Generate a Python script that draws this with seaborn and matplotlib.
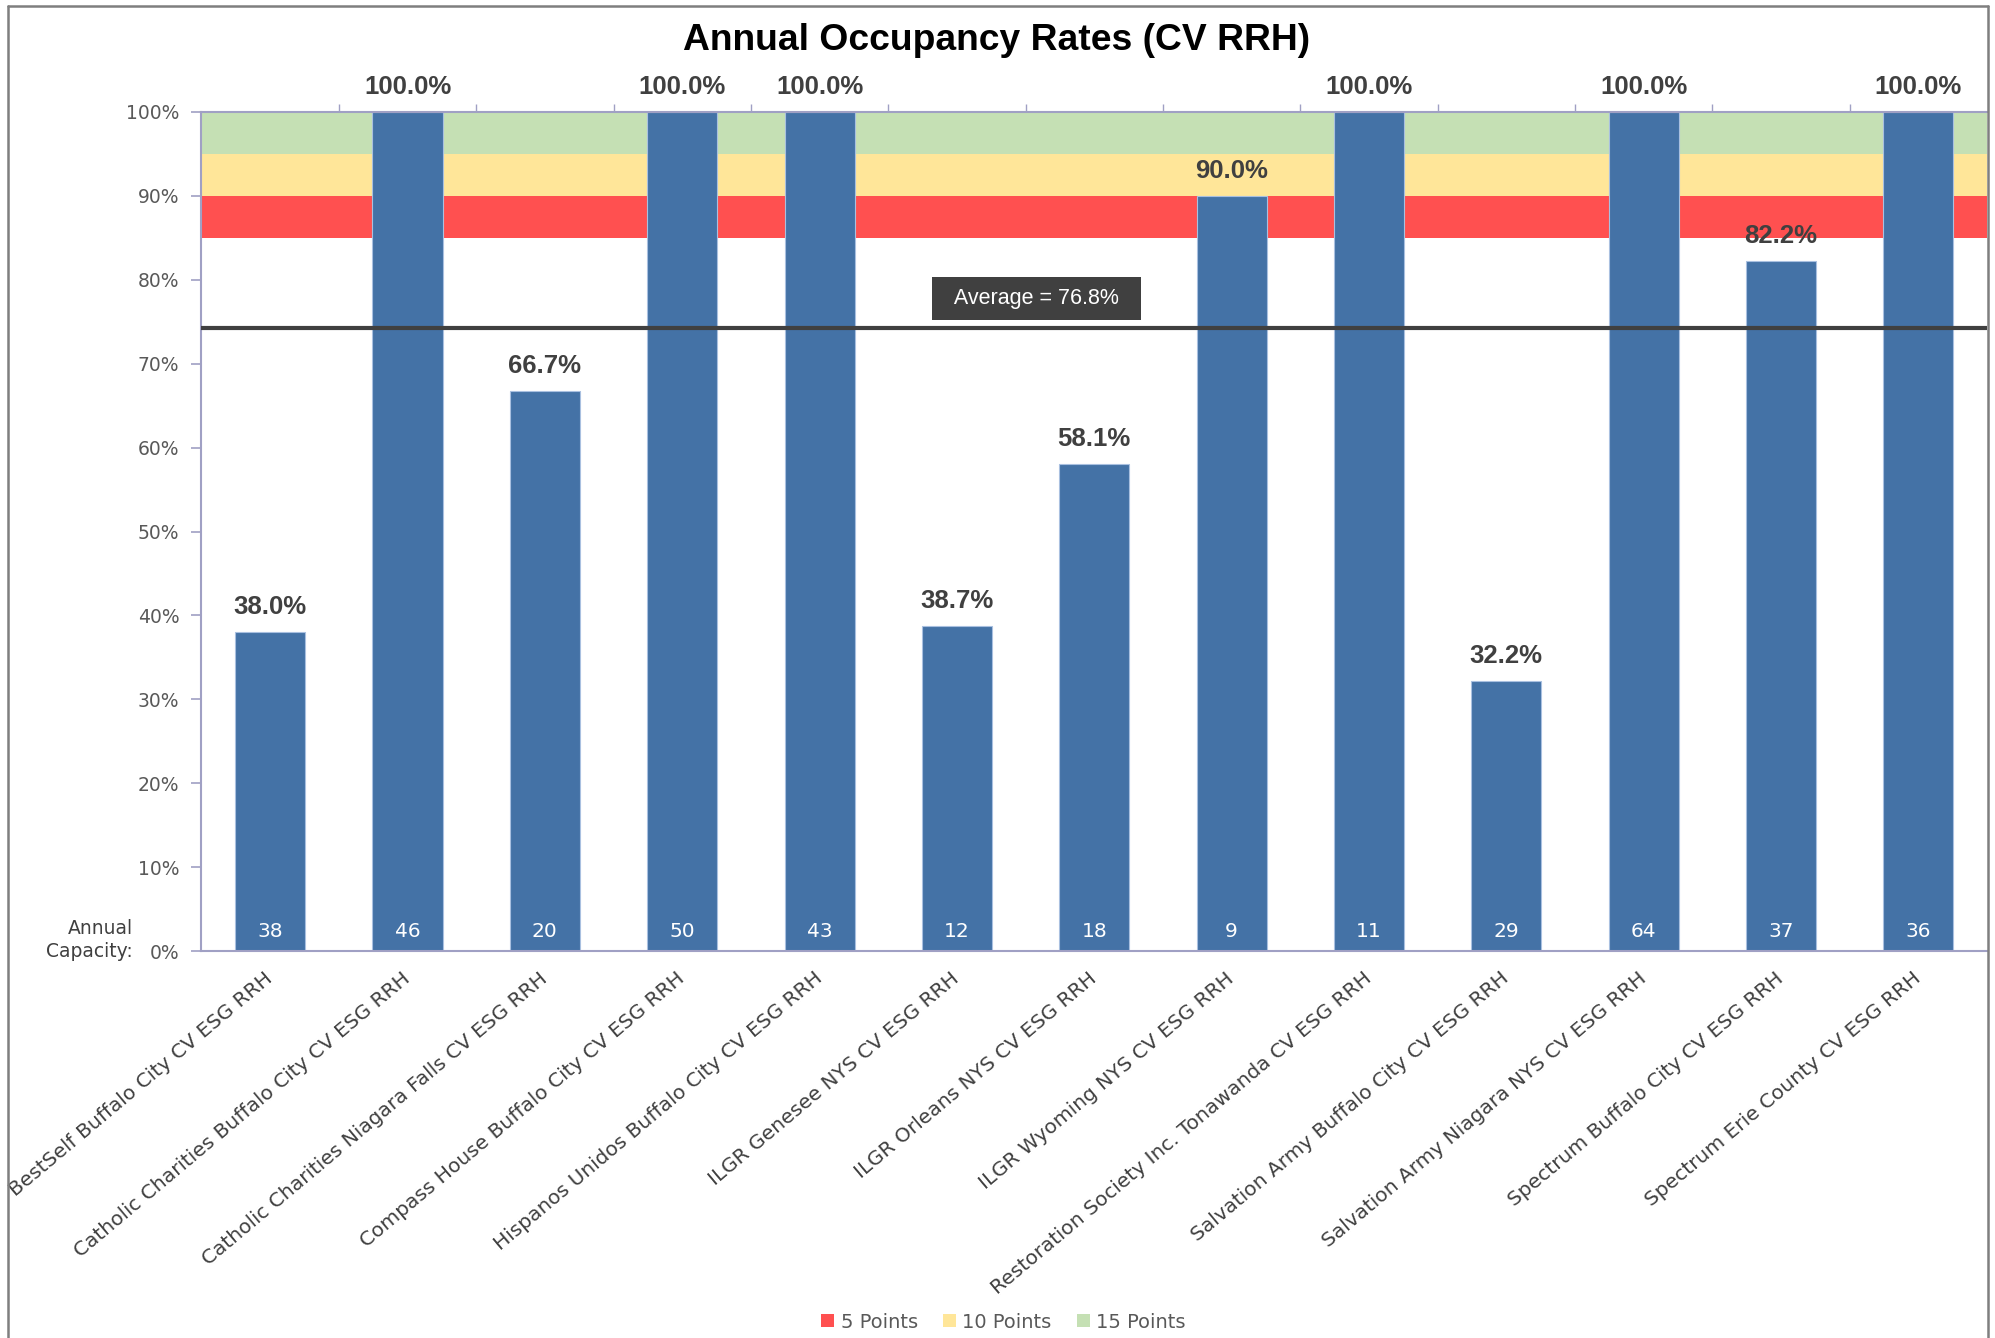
"""Annual occupancy rates bar chart (CV RRH)"""

import matplotlib
matplotlib.use("Agg")
import matplotlib.pyplot as plt
from matplotlib.lines import Line2D
from matplotlib.patches import Patch
import seaborn as sns
import pandas as pd

programs = [
    "BestSelf Buffalo City CV ESG RRH",
    "Catholic Charities Buffalo City CV ESG RRH",
    "Catholic Charities Niagara Falls CV ESG RRH",
    "Compass House Buffalo City CV ESG RRH",
    "Hispanos Unidos Buffalo City CV ESG RRH",
    "ILGR Genesee NYS CV ESG RRH",
    "ILGR Orleans NYS CV ESG RRH",
    "ILGR Wyoming NYS CV ESG RRH",
    "Restoration Society Inc. Tonawanda CV ESG RRH",
    "Salvation Army Buffalo City CV ESG RRH",
    "Salvation Army Niagara NYS CV ESG RRH",
    "Spectrum Buffalo City CV ESG RRH",
    "Spectrum Erie County CV ESG RRH",
]
occupancy = [38.0, 100.0, 66.7, 100.0, 100.0, 38.7, 58.1, 90.0, 100.0, 32.2, 100.0, 82.2, 100.0]
capacity = [38, 46, 20, 50, 43, 12, 18, 9, 11, 29, 64, 37, 36]

band_names = ["5 Points", "10 Points", "15 Points"]
band_low = [85, 90, 95]
band_high = [90, 95, 100]

average_line = 74.3
average_label = "Average = 76.8%"

BAR = "#4472A6"
BAND_COLORS = ["#FF5050", "#FFE699", "#C5E0B4"]
DARK = "#404040"
GREY = "#595959"
SPINE = "#A0A0C4"

sns.set_theme(style="white")
plt.rcParams["font.family"] = ["DejaVu Sans"]

fig = plt.figure(figsize=(19.95, 13.38), dpi=100)
ax = fig.add_axes([0.101, 0.2892, 0.895, 0.6271])

# scoring bands
for lo, hi, c in zip(band_low, band_high, BAND_COLORS):
    ax.axhspan(lo, hi, color=c, lw=0, zorder=0)

df = pd.DataFrame({"program": programs, "occupancy": occupancy, "capacity": capacity})
sns.barplot(data=df, x="program", y="occupancy", color=BAR, saturation=1,
            width=0.51, edgecolor="#A9C0E0", linewidth=0.8, ax=ax, zorder=2)

ax.axhline(average_line, color=DARK, lw=3, zorder=3)
ax.text(5.58, 77.8, "  " + average_label + "  ", color="white", fontsize=15.5,
        family="Liberation Sans", ha="center", va="center", zorder=4,
        bbox=dict(boxstyle="square,pad=0.5", fc=DARK, ec="none"))

for i, (v, cap) in enumerate(zip(df.occupancy, df.capacity)):
    ax.annotate(f"{v:.1f}%", (i, v), xytext=(0, 18), textcoords="offset points",
                ha="center", va="center", fontsize=18.5, fontweight="bold",
                family="Liberation Sans", color=DARK, annotation_clip=False, zorder=5)
    ax.annotate(str(cap), (i, 0), xytext=(0, 14.4), textcoords="offset points",
                ha="center", va="center", fontsize=14.5, color="white", zorder=5)

ax.set_xlim(-0.5, len(programs) - 0.5)
ax.set_ylim(0, 100)
ax.set_yticks(range(0, 101, 10))
ax.set_yticklabels([f"{t}%" for t in range(0, 101, 10)], fontsize=13.5, color=GREY)
ax.set_xticks(range(len(programs)))
ax.set_xticklabels(programs, rotation=40, ha="right", va="center",
                   rotation_mode="anchor", fontsize=14.5, color=DARK)
ax.set_xticks([i + 0.5 for i in range(len(programs) - 1)], minor=True)
ax.set_xlabel("")
ax.set_ylabel("")

ax.tick_params(axis="y", which="major", left=True, length=7, width=1.2,
               color=SPINE, pad=9, direction="out")
ax.tick_params(axis="x", which="major", bottom=False, length=0, pad=18)
ax.tick_params(axis="x", which="minor", bottom=False, top=True, length=6,
               width=1, color=SPINE, direction="out")

for side in ["left", "bottom", "top"]:
    ax.spines[side].set_color(SPINE)
    ax.spines[side].set_linewidth(1.5)
ax.spines["right"].set_visible(False)

ax.grid(False)

fig.text(133 / 1995, 1 - 940 / 1338, "Annual\nCapacity:", ha="right", va="center",
         multialignment="right", fontsize=13.5, color=DARK, linespacing=1.25)

fig.suptitle("Annual Occupancy Rates (CV RRH)", x=0.4995, y=1 - 40 / 1338,
             va="center", fontsize=26.8, fontweight="bold", family="Liberation Sans",
             color="black")

handles = [Patch(facecolor=c, edgecolor="none", label=n) for c, n in zip(BAND_COLORS, band_names)]
fig.legend(handles=handles, loc="center", bbox_to_anchor=(0.503, 1 - 1322 / 1338),
           ncol=3, frameon=False, fontsize=14, handlelength=0.65, handleheight=0.65,
           handletextpad=0.35, columnspacing=1.3, labelcolor=GREY)

# outer chart frame (left, top, right)
frame_kw = dict(color="#7F7F7F", lw=1.8, transform=fig.transFigure)
fig.add_artist(Line2D([8 / 1995, 8 / 1995], [0, 1 - 6 / 1338], **frame_kw))
fig.add_artist(Line2D([8 / 1995, 1988 / 1995], [1 - 6 / 1338, 1 - 6 / 1338], **frame_kw))
fig.add_artist(Line2D([1988 / 1995, 1988 / 1995], [0, 1 - 6 / 1338], **frame_kw))

fig.savefig("out.png", dpi=100)
